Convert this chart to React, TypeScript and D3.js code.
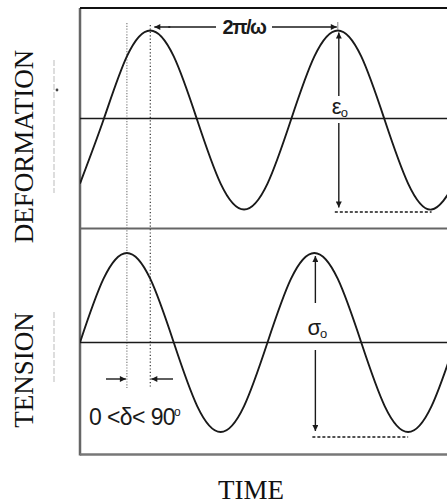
import React from "react";
import * as d3 from "d3";

// Phase angle (degrees of ωt) sampled every 45°
const phaseDeg = [0, 45, 90, 135, 180, 225, 270, 315, 360, 405, 450, 495, 540, 585, 630, 675, 720];
// Normalised stress (tension) – in phase with the driving signal
const tensionValues = [0, 0.71, 1, 0.71, 0, -0.71, -1, -0.71, 0, 0.71, 1, 0.71, 0, -0.71, -1, -0.71, 0];
// Normalised strain (deformation) – lags the stress by δ
const deformationValues = [-0.71, 0, 0.71, 1, 0.71, 0, -0.71, -1, -0.71, 0, 0.71, 1, 0.71, 0, -0.71, -1, -0.71];

const lagDeg = 45;
const stressPeakDeg = 90;
const strainPeakDeg = stressPeakDeg + lagDeg;
const secondStrainPeakDeg = strainPeakDeg + 360;
const secondStressPeakDeg = stressPeakDeg + 360;
const strainTroughDeg = 675;
const stressTroughDeg = 630;

const panelLabels = ["DEFORMATION", "TENSION"];
const xLabel = "TIME";

const W = 447;
const H = 504;
const frameLeft = 80;
const frameTop = 8;
const frameMid = 228.5;
const frameBottom = 454.5;

export default function App() {
  const x = d3.scaleLinear().domain([0, 360]).range([frameLeft, frameLeft + 187.5]);
  const yTop = d3.scaleLinear().domain([-1, 1]).range([209.5, 30.5]);
  const yBot = d3.scaleLinear().domain([-1, 1]).range([432, 253]);

  const line = (ys: d3.ScaleLinear<number, number>, vals: number[]) =>
    d3
      .line<number>()
      .x((_, i) => x(phaseDeg[i]))
      .y((v) => ys(v))
      .curve(d3.curveNatural)(vals) as string;

  const ink = "#1a1a1a";
  const sans = "'Liberation Sans', Arial, sans-serif";
  const serif = "'Liberation Serif', 'Times New Roman', serif";

  const xs1 = x(stressPeakDeg);
  const xs2 = x(strainPeakDeg);
  const xp2 = x(secondStrainPeakDeg);
  const xq2 = x(secondStressPeakDeg);

  return (
    <svg
      width={W}
      height={H}
      viewBox={`0 0 ${W} ${H}`}
      style={{ position: "absolute", left: 0, top: 0, background: "#fff" }}
    >
      <defs>
        <clipPath id="plotClip">
          <rect x={frameLeft} y={frameTop} width={W - frameLeft} height={frameBottom - frameTop} />
        </clipPath>
        <marker id="ah" viewBox="0 0 10 10" refX="10" refY="5" markerWidth="9" markerHeight="6" orient="auto-start-reverse" markerUnits="userSpaceOnUse">
          <path d="M0,0 L10,5 L0,10 Z" fill={ink} />
        </marker>
      </defs>

      {/* phase reference lines */}
      <line x1={xs1} x2={xs1} y1={23} y2={388} stroke="#8a8a8a" strokeWidth={1.3} strokeDasharray="1.2,1.6" />
      <line x1={xs2} x2={xs2} y1={25} y2={388} stroke="#444" strokeWidth={1.3} strokeDasharray="1.2,2.2" />

      {/* frame */}
      <line x1={frameLeft} x2={frameLeft} y1={frameTop} y2={frameBottom + 1} stroke="#666" strokeWidth={2.5} />
      <line x1={frameLeft} x2={W} y1={frameTop} y2={frameTop} stroke="#111" strokeWidth={2.2} />
      <line x1={frameLeft} x2={W} y1={frameMid} y2={frameMid} stroke="#666" strokeWidth={2.2} />
      <line x1={frameLeft} x2={W} y1={frameBottom} y2={frameBottom} stroke="#777" strokeWidth={2.5} />

      {/* zero lines */}
      <line x1={frameLeft} x2={W} y1={yTop(0) - 1.5} y2={yTop(0) - 1.5} stroke={ink} strokeWidth={1.7} />
      <line x1={frameLeft} x2={W} y1={yBot(0)} y2={yBot(0)} stroke={ink} strokeWidth={1.7} />

      {/* waves */}
      <g clipPath="url(#plotClip)">
        <path d={line(yTop, deformationValues)} fill="none" stroke={ink} strokeWidth={1.9} />
        <path d={line(yBot, tensionValues)} fill="none" stroke={ink} strokeWidth={1.9} />
      </g>

      {/* period annotation */}
      <line x1={xs2 + 20} x2={xs2 + 4} y1={27} y2={27} stroke={ink} strokeWidth={1.5} markerEnd="url(#ah)" />
      <line x1={xs2 + 18} x2={216} y1={27} y2={27} stroke={ink} strokeWidth={1.5} />
      <text x={244} y={34} textAnchor="middle" fontFamily={sans} fontWeight="bold" fontSize={20} fill={ink} letterSpacing={-1.5}>
        2π/ω
      </text>
      <line x1={272} x2={xp2 - 1} y1={27} y2={27} stroke={ink} strokeWidth={1.5} markerEnd="url(#ah)" />
      <line x1={xp2} x2={xp2} y1={22} y2={30} stroke="#888" strokeWidth={1} />

      {/* strain amplitude */}
      <line x1={xp2 + 1} x2={xp2 + 1} y1={96} y2={yTop(1) + 2} stroke={ink} strokeWidth={1.4} markerEnd="url(#ah)" />
      <text x={xp2 - 6} y={114} fontFamily={sans} fontSize={22} fill={ink}>
        ε<tspan dx={-1} dy={3} fontSize={13}>o</tspan>
      </text>
      <line x1={xp2 + 1} x2={xp2 + 1} y1={123} y2={yTop(-1) - 2} stroke={ink} strokeWidth={1.4} markerEnd="url(#ah)" />
      <line x1={xp2 - 3} x2={x(strainTroughDeg)} y1={212} y2={212} stroke={ink} strokeWidth={1.3} strokeDasharray="3,2" />

      {/* stress amplitude */}
      <line x1={xq2 + 1} x2={xq2 + 1} y1={303} y2={yBot(1) + 3} stroke={ink} strokeWidth={1.4} markerEnd="url(#ah)" />
      <text x={xq2 - 7} y={335} fontFamily={sans} fontSize={22} fill={ink}>
        σ<tspan dx={-1} dy={3} fontSize={13}>o</tspan>
      </text>
      <line x1={xq2 + 1} x2={xq2 + 1} y1={350} y2={yBot(-1) - 1} stroke={ink} strokeWidth={1.4} markerEnd="url(#ah)" />
      <line x1={xq2 - 2} x2={x(stressTroughDeg)} y1={437} y2={437} stroke={ink} strokeWidth={1.3} strokeDasharray="3,2" />

      {/* phase lag annotation */}
      <line x1={106} x2={xs1 - 1} y1={379} y2={379} stroke={ink} strokeWidth={1.4} markerEnd="url(#ah)" />
      <line x1={173} x2={xs2 + 1} y1={379} y2={379} stroke={ink} strokeWidth={1.4} markerEnd="url(#ah)" />
      <text x={89} y={425} fontFamily={sans} fontSize={23} fill={ink} letterSpacing={-0.6}>
        0 &lt;δ&lt; 90<tspan dx={-1} dy={-9} fontSize={12}>o</tspan>
      </text>

      {/* faint guide marks beside the axis titles */}
      <line x1={54} x2={54} y1={60} y2={193} stroke="#bbb" strokeWidth={1} strokeDasharray="6,2" />
      <circle cx={57} cy={90} r={1.4} fill="#444" />
      <line x1={54} x2={54} y1={312} y2={382} stroke="#bbb" strokeWidth={1} strokeDasharray="6,2" />

      {/* axis titles */}
      <text transform="translate(33,146.5) rotate(-90)" textAnchor="middle" fontFamily={serif} fontSize={27} fill="#111">
        {panelLabels[0]}
      </text>
      <text transform="translate(33,370) rotate(-90)" textAnchor="middle" fontFamily={serif} fontSize={27} fill="#111">
        {panelLabels[1]}
      </text>
      <text x={251} y={499} textAnchor="middle" fontFamily={serif} fontSize={27} fill="#111">
        {xLabel}
      </text>
    </svg>
  );
}
